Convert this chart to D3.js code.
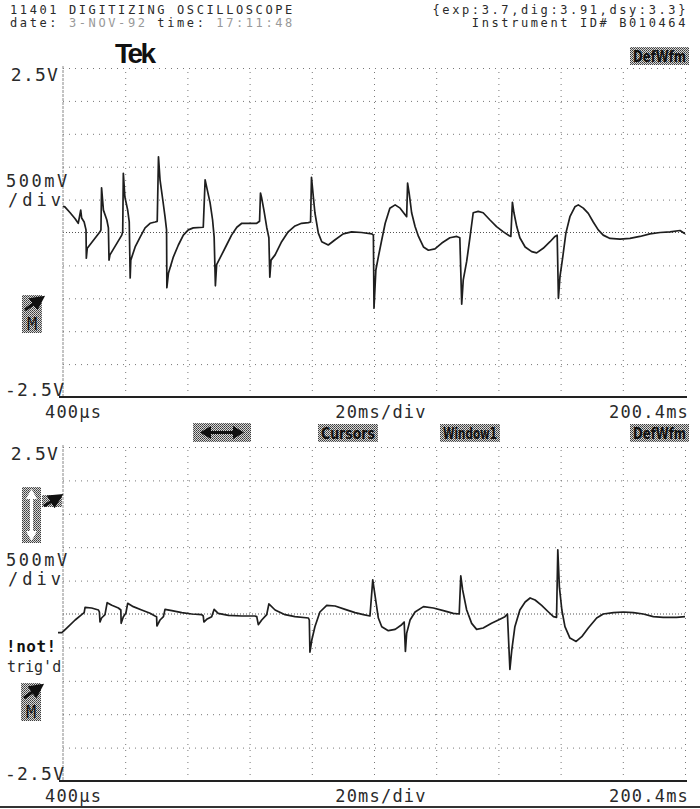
<!DOCTYPE html>
<html><head><meta charset="utf-8">
<script src="https://cdn.jsdelivr.net/npm/d3@7/dist/d3.min.js"></script>
<style>
html,body{margin:0;padding:0;background:#fff;}
svg{display:block;}
.mono{font-family:"DejaVu Sans Mono",monospace;fill:#2a2a2a;}
</style></head>
<body>
<script>
// ---- data ----
const timeDomain = [0.4, 200.4];          // ms
const voltDomain = [-2.5, 2.5];           // V
const xLabels = ["400\u00b5s", "20ms/div", "200.4ms"];
const yLabels = ["2.5V", "-2.5V", "500mV", "/div"];
const headerLeft = ["11401 DIGITIZING OSCILLOSCOPE", "date:", "3-NOV-92", "time:", "17:11:48"];
const headerRight = ["{exp:3.7,dig:3.91,dsy:3.3}", "Instrument ID# B010464"];
const menuLabels = ["Cursors", "Window1", "DefWfm"];

// top trace: [time ms, volts]
const topTrace = [[0.4,0.40],[1.0,0.39],[2.7,0.30],[4.3,0.21],[5.3,0.14],[6.1,0.34],[6.4,0.22],[7.2,0.16],[7.8,0.04],[7.9,-0.39],[8.2,-0.24],[12.3,0.01],[12.6,0.04],[12.8,0.68],[13.4,0.34],[14.5,0.19],[15.0,0.07],[15.2,-0.42],[15.5,-0.34],[19.3,-0.04],[19.6,0.01],[19.8,0.90],[20.3,0.54],[21.2,0.34],[21.7,0.16],[22.0,-0.69],[22.2,-0.42],[23.6,-0.22],[25.2,-0.07],[26.8,0.07],[28.4,0.14],[30.0,0.16],[30.7,0.17],[31.1,1.15],[31.6,0.80],[32.5,0.49],[33.2,0.24],[33.7,0.04],[33.8,-0.84],[34.3,-0.62],[35.9,-0.37],[37.5,-0.19],[39.1,-0.04],[40.7,0.04],[42.3,0.07],[45.5,0.08],[46.1,0.80],[46.6,0.69],[47.7,0.45],[48.5,0.19],[49.0,-0.07],[49.4,-0.81],[49.8,-0.49],[51.4,-0.34],[53.0,-0.19],[54.6,-0.04],[56.3,0.08],[57.9,0.14],[59.5,0.14],[61.1,0.14],[62.7,0.14],[63.6,0.17],[63.9,0.60],[64.3,0.52],[65.0,0.34],[65.9,0.08],[66.6,-0.08],[66.9,-0.68],[67.3,-0.42],[68.6,-0.34],[70.7,-0.14],[72.8,0.01],[75.0,0.10],[77.1,0.14],[79.3,0.15],[80.0,0.16],[80.3,0.84],[80.9,0.54],[81.4,0.30],[82.5,-0.01],[83.6,-0.14],[85.7,-0.19],[87.9,-0.11],[90.5,-0.02],[93.2,0.01],[96.4,0.00],[99.7,-0.02],[100.2,-0.04],[100.4,-1.15],[101.0,-0.57],[101.8,-0.37],[102.9,-0.11],[104.0,0.14],[105.5,0.37],[107.2,0.42],[108.8,0.37],[110.4,0.27],[110.9,0.24],[111.2,0.75],[111.7,0.60],[112.5,0.30],[113.6,0.09],[114.7,-0.06],[116.3,-0.22],[117.9,-0.27],[120.0,-0.25],[122.2,-0.16],[124.8,-0.08],[127.0,-0.06],[128.0,-0.08],[128.6,-1.09],[129.1,-0.72],[130.2,-0.44],[131.3,-0.06],[132.3,0.30],[133.9,0.32],[135.5,0.30],[137.7,0.19],[139.8,0.09],[142.0,0.01],[143.9,-0.05],[144.4,-0.06],[144.9,0.46],[145.4,0.30],[146.3,0.09],[147.3,-0.08],[149.0,-0.22],[151.1,-0.29],[152.7,-0.31],[154.8,-0.24],[157.0,-0.14],[158.6,-0.06],[159.3,-0.04],[159.7,-1.00],[160.2,-0.67],[161.1,-0.37],[162.1,-0.01],[163.4,0.24],[165.0,0.39],[166.1,0.42],[167.7,0.37],[169.3,0.29],[170.9,0.16],[172.5,0.04],[174.1,-0.04],[176.3,-0.09],[179.5,-0.10],[182.7,-0.09],[185.9,-0.06],[189.1,-0.02],[192.4,0.00],[195.6,0.01],[198.8,0.03],[200.4,-0.02]];

// bottom trace: [time ms, volts]
const bottomTrace = [[-1.2,-0.28],[0.0,-0.28],[0.5,-0.26],[2.1,-0.19],[4.3,-0.09],[6.4,-0.01],[7.2,0.02],[7.5,0.10],[9.6,0.09],[11.8,0.06],[12.1,0.03],[12.3,-0.12],[12.8,-0.06],[13.9,-0.01],[14.6,0.17],[16.1,0.13],[18.2,0.09],[19.0,0.06],[19.1,-0.14],[19.8,-0.04],[20.6,0.01],[21.2,0.16],[23.0,0.11],[25.7,0.06],[28.4,0.01],[30.0,-0.03],[30.5,-0.04],[30.6,-0.18],[31.6,-0.09],[32.7,-0.04],[33.2,0.07],[35.4,0.05],[38.6,0.02],[41.8,0.00],[45.0,-0.01],[45.5,-0.03],[45.7,-0.12],[46.6,-0.08],[48.2,-0.04],[49.0,0.07],[50.3,0.01],[53.6,-0.02],[57.9,-0.03],[62.1,-0.03],[62.7,-0.04],[63.2,-0.16],[64.3,-0.09],[65.9,-0.01],[66.6,0.15],[68.6,0.06],[71.8,-0.01],[75.0,-0.04],[79.3,-0.06],[79.6,-0.09],[79.8,-0.57],[80.4,-0.39],[81.4,-0.19],[83.0,0.03],[85.2,0.13],[87.9,0.12],[91.1,0.07],[94.3,0.02],[97.0,-0.01],[99.1,-0.03],[100.0,0.51],[101.1,0.16],[101.8,-0.06],[102.9,-0.19],[105.0,-0.25],[107.2,-0.23],[109.3,-0.16],[110.1,-0.12],[110.5,-0.56],[110.9,-0.29],[112.0,-0.09],[113.6,0.03],[116.3,0.11],[119.5,0.09],[122.7,0.05],[125.9,0.01],[127.8,0.00],[128.3,0.57],[128.9,0.36],[130.2,0.06],[131.8,-0.14],[133.4,-0.23],[135.5,-0.21],[138.2,-0.14],[140.9,-0.08],[142.5,-0.04],[143.3,0.00],[144.1,-0.83],[144.7,-0.54],[145.7,-0.19],[147.3,0.06],[149.0,0.18],[150.6,0.24],[152.2,0.21],[154.3,0.13],[156.5,0.03],[158.1,-0.04],[159.1,-0.05],[159.5,0.96],[160.0,0.41],[160.8,0.06],[161.8,-0.19],[163.4,-0.36],[165.4,-0.41],[167.2,-0.34],[169.3,-0.21],[172.0,-0.06],[174.1,0.00],[177.4,0.02],[180.6,0.03],[183.8,0.02],[187.0,0.00],[190.2,-0.04],[193.4,-0.05],[197.7,-0.05],[200.4,-0.04]];

// ---- layout ----
const W = 700, H = 809;
const plotLeft = 63, plotRight = 685;
const panels = [
  {top: 68, bottom: 397, trace: topTrace},
  {top: 447, bottom: 781, trace: bottomTrace}
];

const svg = d3.select("body").append("svg").attr("width", W).attr("height", H);

// dither pattern
const defs = svg.append("defs");
const pat = defs.append("pattern").attr("id","dither").attr("width",2).attr("height",2).attr("patternUnits","userSpaceOnUse");
pat.append("rect").attr("width",2).attr("height",2).attr("fill","#d8d8d8");
pat.append("rect").attr("x",0).attr("y",0).attr("width",1).attr("height",1).attr("fill","#3a3a3a");
pat.append("rect").attr("x",1).attr("y",1).attr("width",1).attr("height",1).attr("fill","#5a5a5a");
const arrowM = defs.append("marker").attr("id","ahead").attr("viewBox","0 0 10 10").attr("refX",5).attr("refY",5)
  .attr("markerWidth",5).attr("markerHeight",5).attr("orient","auto");
arrowM.append("path").attr("d","M0,0 L10,5 L0,10 z").attr("fill","#111");

const x = d3.scaleLinear().domain(timeDomain).range([plotLeft, plotRight]);
const gridTimes = d3.range(0, 11).map(i => timeDomain[0] + i * 20);
const gridVolts = d3.range(0, 11).map(i => voltDomain[0] + i * 0.5);

function mono(g, txt, px, py, opts = {}) {
  return g.append("text").attr("class","mono").attr("x",px).attr("y",py)
    .attr("font-size", opts.size || 17)
    .attr("letter-spacing", opts.ls != null ? opts.ls : 1.2)
    .attr("text-anchor", opts.anchor || "start")
    .style("fill", opts.fill || "#2a2a2a")
    .text(txt);
}

panels.forEach((p, pi) => {
  const y = d3.scaleLinear().domain(voltDomain).range([p.bottom, p.top]);
  const g = svg.append("g");

  // vertical grid via axis
  const vAxis = d3.axisBottom(x).tickValues(gridTimes.slice(1)).tickSize(-(p.bottom - p.top)).tickFormat("");
  const vg = g.append("g").attr("transform", `translate(0,${p.bottom})`).call(vAxis);
  vg.select(".domain").remove();
  vg.selectAll("line").attr("stroke","#777").attr("stroke-width",1).attr("stroke-dasharray","1,5");

  // horizontal grid via axis
  const hAxis = d3.axisLeft(y).tickValues(gridVolts.filter(v => v > voltDomain[0] && v !== 0)).tickSize(-(plotRight - plotLeft)).tickFormat("");
  const hg = g.append("g").attr("transform", `translate(${plotLeft},0)`).call(hAxis);
  hg.select(".domain").remove();
  hg.selectAll("line").attr("stroke","#777").attr("stroke-width",1).attr("stroke-dasharray","1,5");

  // center line, denser dots
  g.append("line").attr("x1",plotLeft).attr("x2",plotRight).attr("y1",y(0)).attr("y2",y(0))
    .attr("stroke","#555").attr("stroke-width",1).attr("stroke-dasharray","1,2");

  // left border
  g.append("line").attr("x1",plotLeft).attr("x2",plotLeft).attr("y1",p.top-2).attr("y2",p.bottom)
    .attr("stroke","#888").attr("stroke-width",1).attr("stroke-dasharray","3,1");
  // bottom baseline
  g.append("line").attr("x1",plotLeft-4).attr("x2",plotRight+2).attr("y1",p.bottom).attr("y2",p.bottom)
    .attr("stroke","#222").attr("stroke-width",2);

  // trace
  const line = d3.line().x(d => x(d[0])).y(d => y(d[1]));
  g.append("path").datum(p.trace).attr("d", line).attr("fill","none")
    .attr("stroke","#1e1e1e").attr("stroke-width",1.7).attr("stroke-linejoin","round");

  // y labels
  mono(g, yLabels[0], 59, p.top + 13, {anchor:"end", size:18});
  mono(g, yLabels[1], 5, p.bottom - 1, {size:18});
  mono(g, yLabels[2], 6, p.top + 119, {ls:2.5});
  mono(g, yLabels[3], 8, p.top + 138, {ls:4});

  // x labels
  mono(g, xLabels[0], 45, p.bottom + 21);
  mono(g, xLabels[1], 381, p.bottom + 21, {anchor:"middle"});
  mono(g, xLabels[2], 689, p.bottom + 21, {anchor:"end"});
});

// ---- header ----
const hdr = svg.append("g");
mono(hdr, headerLeft[0], 10, 14, {size:12, ls:2.6});
const dl = hdr.append("text").attr("class","mono").attr("x",10).attr("y",27).attr("font-size",12).attr("letter-spacing",2.6);
dl.append("tspan").text(headerLeft[1]);
dl.append("tspan").style("fill","#999").text("  " + headerLeft[2]);
dl.append("tspan").text(" " + headerLeft[3]);
dl.append("tspan").style("fill","#999").text(" " + headerLeft[4]);
mono(hdr, headerRight[0], 688, 14, {size:12, ls:2.6, anchor:"end"});
mono(hdr, headerRight[1], 688, 27, {size:12, ls:2.6, anchor:"end"});

// Tek logo
hdr.append("text").attr("x",115).attr("y",63).attr("font-family","Liberation Sans, Arial, sans-serif")
  .attr("font-weight",900).attr("font-size",28).attr("letter-spacing",-2.5).attr("fill","#111").text("Tek");

// dithered menu boxes
function ditherBox(px, py, w, h, label) {
  const g = svg.append("g");
  g.append("rect").attr("x",px).attr("y",py).attr("width",w).attr("height",h).attr("fill","url(#dither)");
  if (label) {
    g.append("text").attr("x",px+w/2).attr("y",py+h-3).attr("text-anchor","middle")
      .attr("font-family","DejaVu Sans Condensed, DejaVu Sans, sans-serif").attr("font-weight","bold")
      .attr("font-size",15).attr("fill","#111").attr("textLength",w-6).attr("lengthAdjust","spacingAndGlyphs").text(label);
  }
  return g;
}
ditherBox(630, 47, 59, 18, menuLabels[2]);
ditherBox(318, 424, 60, 18, menuLabels[0]);
ditherBox(440, 424, 60, 18, menuLabels[1]);
ditherBox(630, 424, 59, 18, menuLabels[2]);

// double horizontal arrow box
const ab = ditherBox(193, 423, 58, 19);
ab.append("line").attr("x1",208).attr("x2",236).attr("y1",432.5).attr("y2",432.5).attr("stroke","#111").attr("stroke-width",3);
ab.append("path").attr("d","M200,432.5 L211,426 L211,439 Z").attr("fill","#111");
ab.append("path").attr("d","M244,432.5 L233,426 L233,439 Z").attr("fill","#111");

// M boxes with arrows
function mBox(px, py) {
  const g = ditherBox(px, py, 20, 38);
  g.append("line").attr("x1",px+3).attr("y1",py+15).attr("x2",px+17).attr("y2",py+5)
    .attr("stroke","#111").attr("stroke-width",3).attr("marker-end","url(#ahead)");
  g.append("text").attr("x",px+10).attr("y",py+35).attr("text-anchor","middle")
    .attr("font-family","DejaVu Sans Mono, monospace").attr("font-size",17).attr("fill","#111").text("M");
}
mBox(22, 295);
mBox(21, 683);

// bottom panel vertical arrow box
const vb = ditherBox(22, 487, 19, 56);
vb.append("line").attr("x1",31.5).attr("x2",31.5).attr("y1",497).attr("y2",533).attr("stroke","#fff").attr("stroke-width",3);
vb.append("path").attr("d","M31.5,489 L26,499 L37,499 Z").attr("fill","#fff");
vb.append("path").attr("d","M31.5,541 L26,531 L37,531 Z").attr("fill","#fff");
const sb = ditherBox(42, 495, 20, 12);
sb.append("line").attr("x1",44).attr("y1",506).attr("x2",57).attr("y2",498)
  .attr("stroke","#111").attr("stroke-width",3).attr("marker-end","url(#ahead)");

// not trig'd
svg.append("text").attr("x",6).attr("y",652).attr("font-family","DejaVu Sans Mono, monospace")
  .attr("font-weight","bold").attr("font-size",16).attr("letter-spacing",0.5).attr("fill","#111").text("!not!");
mono(svg, "trig'd", 7, 672, {size:15, ls:0});

// bottom page line
svg.append("line").attr("x1",0).attr("x2",W).attr("y1",807).attr("y2",807).attr("stroke","#333").attr("stroke-width",2);
</script>
</body></html>
